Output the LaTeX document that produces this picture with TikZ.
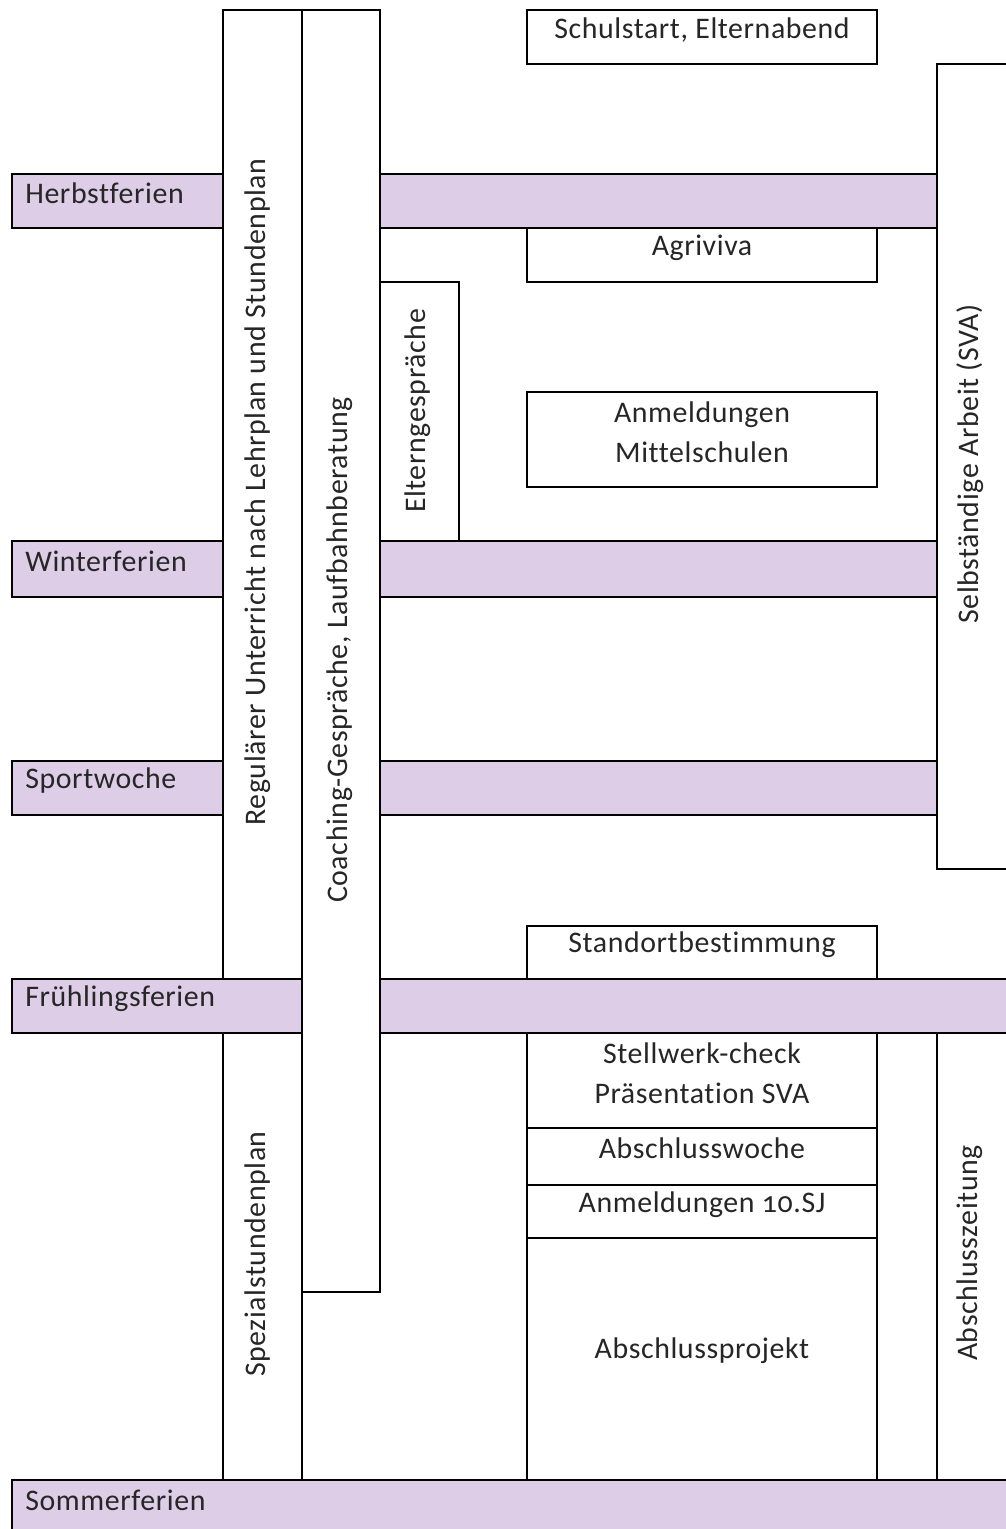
\documentclass[tikz,border=0pt]{standalone}
\usepackage{fontspec}
\setmainfont{Carlito}[Numbers=OldStyle,Ligatures=NoCommon,LetterSpace=2]
\usepackage{tikz}
\usetikzlibrary{positioning}
\definecolor{ferien}{RGB}{221,205,231}
\tikzset{
  ferienbar/.style={draw=black,fill=ferien,line width=0.9pt},
  block/.style={draw=black,fill=white,line width=0.9pt},
  lbl/.style={font=\fontsize{17}{22.7}\selectfont,text=black!85,inner sep=0pt,align=center},
  vlbl/.style={lbl,rotate=90}
}
\begin{document}
\begin{tikzpicture}[x=0.02cm,y=-0.02cm]
      \useasboundingbox (0,0) rectangle (1005,1529);
      % Ferien
      \draw[ferienbar] (12,174) rectangle (937,228);
      \draw[ferienbar] (12,541) rectangle (937,597);
      \draw[ferienbar] (12,761) rectangle (937,815);
      \draw[ferienbar] (12,979) rectangle (1015,1033);
      \draw[ferienbar] (12,1480) rectangle (1015,1540);
      \node[lbl,anchor=west] (herbst) at (25,193) {Herbstferien};
      \node[lbl,anchor=west] (winter) at (25,561) {Winterferien};
      \node[lbl,anchor=west] (sport) at (25,781) {Sportwoche};
      \node[lbl,anchor=west] (fruehling) at (25,999) {Frühlingsferien};
      \node[lbl,anchor=west] (sommer) at (25,1500) {Sommerferien};
      % Spalten
      \draw[block] (223,10) rectangle (302,979);
      \draw[block] (223,1033) rectangle (302,1480);
      \draw[block] (302,10) rectangle (380,1292);
      \draw[block] (380,282) rectangle (459,541);
      \draw[block] (937,64) rectangle (1015,869);
      \draw[block] (937,1033) rectangle (1015,1480);
      \node[vlbl] (unterricht) at (258,492) {Regulärer Unterricht nach Lehrplan und Stundenplan};
      \node[vlbl] (spezial) at (258,1254) {Spezialstundenplan};
      \node[vlbl] (coaching) at (340,650) {Coaching-Gespräche, Laufbahnberatung};
      \node[vlbl] (eltern) at (418,411) {Elterngespräche};
      \node[vlbl] (sva) at (970,464) {Selbständige Arbeit (SVA)};
      \node[vlbl] (zeitung) at (970,1253) {Abschlusszeitung};
      % Anlaesse
      \draw[block] (527,10) rectangle (877,64);
      \draw[block] (527,228) rectangle (877,282);
      \draw[block] (527,392) rectangle (877,487);
      \draw[block] (527,926) rectangle (877,979);
      \draw[block] (527,1033) rectangle (877,1128);
      \draw[block] (527,1128) rectangle (877,1185);
      \draw[block] (527,1185) rectangle (877,1238);
      \draw[block] (527,1238) rectangle (877,1480);
      \node[lbl] (schulstart) at (702,30) {Schulstart, Elternabend};
      \node[lbl] (agriviva) at (702,248) {Agriviva};
      \node[lbl] (mittelschulen) at (702,432) {Anmeldungen\\Mittelschulen};
      \node[lbl] (standort) at (702,945) {Standortbestimmung};
      \node[lbl] (stellwerk) at (702,1073) {Stellwerk-check\\Präsentation SVA};
      \node[lbl] (woche) at (702,1148) {Abschlusswoche};
      \node[lbl] (anmeldung) at (702,1205) {Anmeldungen 10.SJ};
      \node[lbl] (projekt) at (702,1351) {Abschlussprojekt};
    \end{tikzpicture}
\end{document}
